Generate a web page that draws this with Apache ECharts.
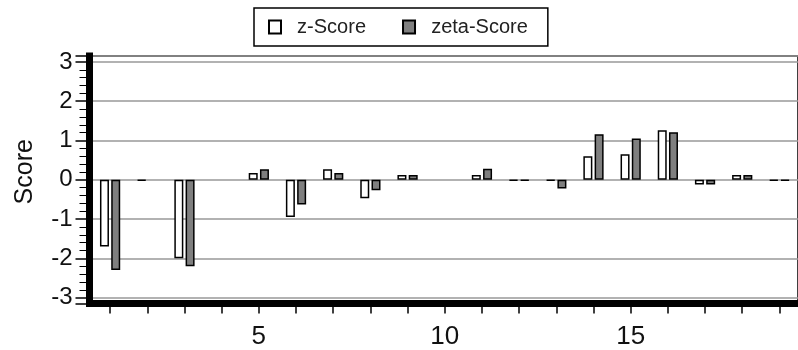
<!DOCTYPE html>
<html>
<head>
<meta charset="utf-8">
<script src="https://cdn.jsdelivr.net/npm/echarts@6/dist/echarts.min.js"></script>
<style>
  html, body { margin: 0; padding: 0; background: #fff; }
  #chart { width: 798px; height: 350px; }
</style>
</head>
<body>
<div id="chart"></div>
<script>
// Observation index along the x axis
const categories = ['1','2','3','4','5','6','7','8','9','10','11','12','13','14','15','16','17','18','19'];
// Scores per observation (null = no bar)
const zScore    = [-1.7, -0.02, -2.0, null, 0.17, -0.95, 0.27, -0.47, 0.12, null, 0.12, -0.02, -0.02, 0.6, 0.65, 1.26, -0.12, 0.12, -0.02];
const zetaScore = [-2.3, null, -2.2, null, 0.27, -0.63, 0.17, -0.27, 0.12, null, 0.28, -0.02, -0.22, 1.16, 1.05, 1.21, -0.12, 0.12, -0.02];
const shownXLabels = ['5', '10', '15'];

const chart = echarts.init(document.getElementById('chart'), null, { renderer: 'canvas' });
const fontFamily = '"Liberation Sans", Arial, Helvetica, sans-serif';

chart.setOption({
  animation: false,
  backgroundColor: '#fff',
  textStyle: { fontFamily: fontFamily },
  legend: {
    left: 254,
    top: 8,
    orient: 'horizontal',
    padding: [9, 20, 9, 14],
    itemGap: 36,
    itemWidth: 12,
    itemHeight: 13,
    borderColor: '#000',
    borderWidth: 1.5,
    icon: 'rect',
    formatter: name => '  ' + name,
    textStyle: { fontSize: 20, color: '#222', fontFamily: fontFamily },
    data: ['z-Score', 'zeta-Score']
  },
  grid: {
    left: 91.5,
    right: -2.2,
    top: 56,
    bottom: 46.5,
    show: true,
    borderColor: '#000',
    borderWidth: 1.5,
    backgroundColor: 'transparent'
  },
  xAxis: {
    type: 'category',
    data: categories,
    axisLine: { show: true, onZero: false, lineStyle: { color: '#000', width: 7, cap: 'square' } },
    axisTick: { show: true, interval: 0, alignWithLabel: true, length: 10, lineStyle: { color: '#000', width: 1.5 } },
    axisLabel: {
      interval: 0,
      margin: 20,
      fontSize: 26,
      color: '#111',
      formatter: v => shownXLabels.includes(v) ? v : ''
    },
    splitLine: { show: false }
  },
  yAxis: {
    type: 'value',
    min: -3.15,
    max: 3.15,
    offset: 2,
    name: 'Score',
    nameLocation: 'middle',
    nameGap: 52,
    nameTextStyle: { fontSize: 25, color: '#111', fontFamily: fontFamily, padding: [0, 0, 0, 16] },
    axisLine: { show: true, lineStyle: { color: '#000', width: 7, cap: 'square' } },
    axisTick: { show: true, length: 14, lineStyle: { color: '#000', width: 1.5 } },
    minorTick: { show: true, splitNumber: 5, length: 10, lineStyle: { color: '#000', width: 1 } },
    axisLabel: {
      margin: 17,
      fontSize: 24,
      color: '#111',
      formatter: v => Number.isInteger(Math.round(v * 1000) / 1000) ? String(Math.round(v)) : ''
    },
    splitLine: { show: true, lineStyle: { color: '#999', width: 1.5 } }
  },
  series: [
    {
      name: 'z-Score',
      type: 'bar',
      data: zScore,
      barWidth: 9,
      barGap: '25%',
      itemStyle: { color: '#fff', borderColor: '#000', borderWidth: 1.5 }
    },
    {
      name: 'zeta-Score',
      type: 'bar',
      data: zetaScore,
      barWidth: 9,
      itemStyle: { color: '#7f7f7f', borderColor: '#000', borderWidth: 1.5 }
    }
  ]
});
</script>
</body>
</html>
